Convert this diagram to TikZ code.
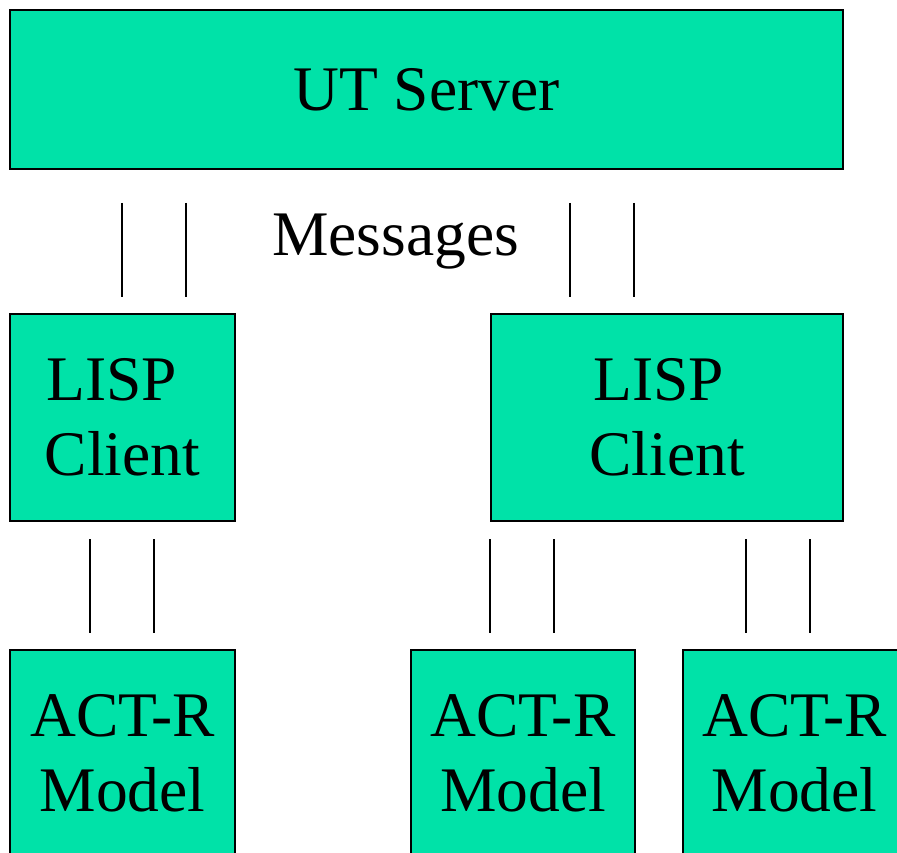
\documentclass[tikz,border=0pt]{standalone}
\usepackage{fontspec}
\setmainfont{Liberation Serif}
\usepackage{tikz}
\usetikzlibrary{positioning}
\definecolor{boxgreen}{RGB}{0,226,168}
\tikzstyle{block} = [rectangle, draw=black, line width=2pt, fill=boxgreen, align=center, inner sep=0pt, font=\fontsize{63.5}{75}\selectfont]
\tikzstyle{wire} = [draw=black, line width=2pt]

\begin{document}
\begin{tikzpicture}[x=1pt, y=1pt]
\useasboundingbox (0,0) rectangle (897,-853);

\node (server) [block, minimum width=833pt, minimum height=159pt] at (426.5,-89.5) {UT Server};

\node (lispL) [block, minimum width=225pt, minimum height=207pt] at (122.5,-417.5) {LISP\hspace*{22pt}\\Client};
\node (lispR) [block, minimum width=352pt, minimum height=207pt] at (667,-417.5) {LISP\hspace*{16pt}\\Client};

\node (actA) [block, minimum width=225pt, minimum height=207pt] at (122.5,-753.5) {ACT-R\\Model};
\node (actB) [block, minimum width=224pt, minimum height=207pt] at (523,-753.5) {ACT-R\\Model};
\node (actC) [block, minimum width=223pt, minimum height=207pt] at (794.5,-753.5) {ACT-R\\Model};

\node (msg) [anchor=base, font=\fontsize{63.5}{75}\selectfont] at (395.5,-255) {Messages};

% server to clients
\coordinate (t1) at ([xshift=113pt]lispL.north west);
\coordinate (t2) at ([xshift=177pt]lispL.north west);
\coordinate (t3) at ([xshift=80pt]lispR.north west);
\coordinate (t4) at ([xshift=144pt]lispR.north west);
\draw[wire, shorten <=33pt, shorten >=16pt] (server.south -| t1) -- (t1);
\draw[wire, shorten <=33pt, shorten >=16pt] (server.south -| t2) -- (t2);
\draw[wire, shorten <=33pt, shorten >=16pt] (server.south -| t3) -- (t3);
\draw[wire, shorten <=33pt, shorten >=16pt] (server.south -| t4) -- (t4);

% clients to models
\coordinate (b1) at ([xshift=81pt]actA.north west);
\coordinate (b2) at ([xshift=145pt]actA.north west);
\coordinate (b3) at ([xshift=80pt]actB.north west);
\coordinate (b4) at ([xshift=144pt]actB.north west);
\coordinate (b5) at ([xshift=64pt]actC.north west);
\coordinate (b6) at ([xshift=128pt]actC.north west);
\draw[wire, shorten <=17pt, shorten >=16pt] (lispL.south -| b1) -- (b1);
\draw[wire, shorten <=17pt, shorten >=16pt] (lispL.south -| b2) -- (b2);
\draw[wire, shorten <=17pt, shorten >=16pt] (lispR.south -| b3) -- (b3);
\draw[wire, shorten <=17pt, shorten >=16pt] (lispR.south -| b4) -- (b4);
\draw[wire, shorten <=17pt, shorten >=16pt] (lispR.south -| b5) -- (b5);
\draw[wire, shorten <=17pt, shorten >=16pt] (lispR.south -| b6) -- (b6);

\end{tikzpicture}
\end{document}
